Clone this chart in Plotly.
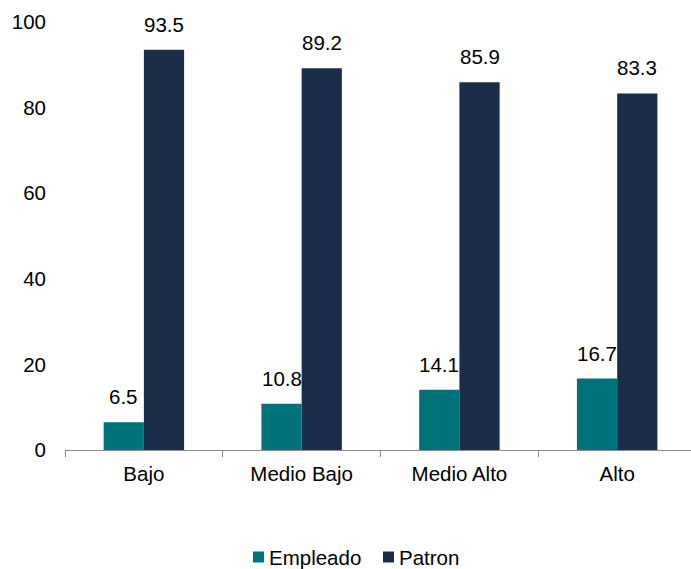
import plotly.graph_objects as go

categories = ["Bajo", "Medio Bajo", "Medio Alto", "Alto"]
empleado = [6.5, 10.8, 14.1, 16.7]
patron = [93.5, 89.2, 85.9, 83.3]
series_names = ["Empleado", "Patron"]

teal = "#00737A"
navy = "#1C2D4A"
font_family = "Liberation Sans, Arial, sans-serif"
fsize = 20.5

W, H = 691, 569
ML, MR, MT, MB = 65, 0, 22, 119
plot_w = W - ML - MR
plot_h = H - MT - MB


def px_to_paper_x(px):
    return (px - ML) / plot_w


def px_to_paper_y(py):
    return (H - MB - py) / plot_h


fig = go.Figure()
fig.add_trace(go.Bar(name=series_names[0], x=categories, y=empleado, marker_color=teal,
                     marker_line_width=0, offsetgroup="e", showlegend=False))
fig.add_trace(go.Bar(name=series_names[1], x=categories, y=patron, marker_color=navy,
                     marker_line_width=0, offsetgroup="p", showlegend=False))

# value labels above each bar
bar_w = 0.255
for i, cat in enumerate(categories):
    for val, off in ((empleado[i], -bar_w / 2), (patron[i], bar_w / 2)):
        fig.add_annotation(x=i + off, y=val, text=f"{val:.1f}", showarrow=False,
                           xref="x", yref="y", yanchor="bottom", yshift=12,
                           font=dict(size=fsize, color="#000000", family=font_family))

# legend along the bottom: square swatch + label
legend_items = [(series_names[0], teal, 253), (series_names[1], navy, 383)]
legend_cy = 557
sw = 11
for name, color, x0 in legend_items:
    fig.add_shape(type="rect", xref="paper", yref="paper",
                  x0=px_to_paper_x(x0), x1=px_to_paper_x(x0 + sw),
                  y0=px_to_paper_y(legend_cy + sw / 2), y1=px_to_paper_y(legend_cy - sw / 2),
                  fillcolor=color, line_width=0)
    fig.add_annotation(x=px_to_paper_x(x0 + sw + 3), y=px_to_paper_y(legend_cy),
                       xref="paper", yref="paper", xanchor="left", yanchor="middle",
                       text=name, showarrow=False,
                       font=dict(size=fsize, color="#000000", family=font_family))

fig.update_layout(
    width=W, height=H,
    margin=dict(l=ML, r=MR, t=MT, b=MB),
    paper_bgcolor="white", plot_bgcolor="white",
    barmode="group", bargap=0.49, bargroupgap=0,
    font=dict(family=font_family, size=fsize, color="#000000"),
    showlegend=False,
    xaxis=dict(range=[-0.5, 3.468], showline=True, linecolor="#8C8C8C", linewidth=1,
               ticks="outside", tickson="boundaries", ticklen=6, tickcolor="#8C8C8C",
               showgrid=False, tickfont=dict(size=fsize), ticklabelstandoff=5),
    yaxis=dict(range=[0, 100], dtick=20, showgrid=False, showline=False,
               zeroline=False, ticks="", tickfont=dict(size=fsize), ticklabelstandoff=18),
)

fig.write_html("out.html")
